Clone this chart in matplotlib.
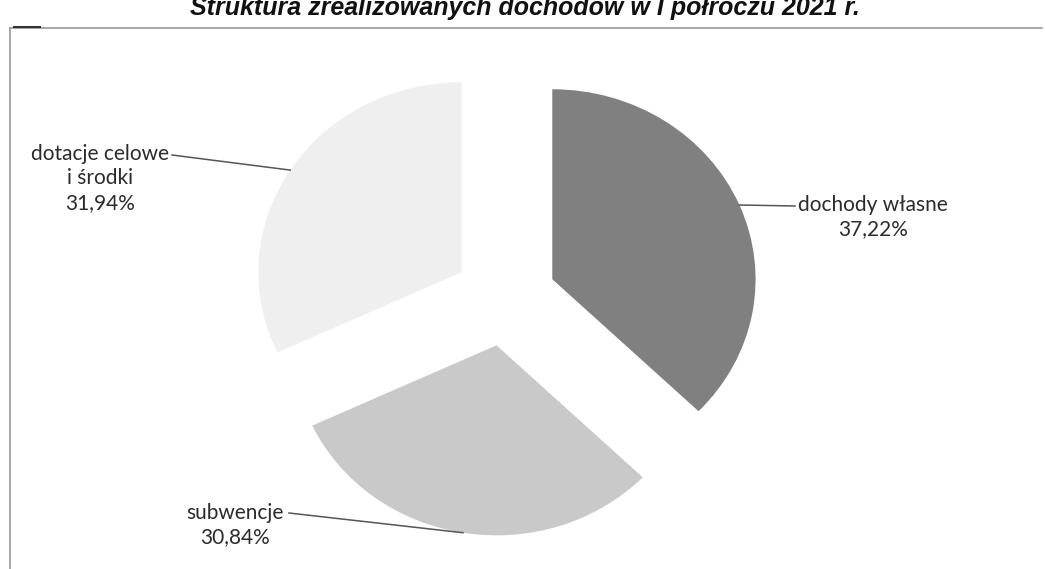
import numpy as np
import matplotlib.pyplot as plt
from matplotlib.lines import Line2D

plt.rcParams['font.family'] = ['Lato', 'DejaVu Sans']

# data
labels = ['dochody własne', 'subwencje', 'dotacje celowe\ni środki']
shares = [37.22, 30.84, 31.94]
pct_text = ['37,22%', '30,84%', '31,94%']
colors = ['#808080', '#c9c9c9', '#efefef']
title = 'Struktura zrealizowanych dochodów w I półroczu 2021 r.'

W, H = 1045, 569
sx = 1.07  # scan is a bit stretched horizontally

fig = plt.figure(figsize=(W / 100, H / 100), dpi=100)
ax = fig.add_axes([0, 0, 1, 1])

# explode is in data units here (radius 190)
wedges, _ = ax.pie(shares, colors=colors, startangle=90, counterclock=False,
                   explode=[48] * 3, radius=190, center=(505 / sx, 271),
                   wedgeprops=dict(linewidth=0))
ax.set_aspect('auto')
ax.set_xlim(0, W / sx)
ax.set_ylim(0, H)
ax.axis('off')

# label positions (px from top-left, centre of first line)
lab_pos = [(873, 207), (235, 515), (100, 156)]
line_end = [(795, 206), (289, 513), (172, 155)]

for w, lab, pct, (lx, ly), (ex, ey) in zip(wedges, labels, pct_text, lab_pos, line_end):
    mid = np.deg2rad((w.theta1 + w.theta2) / 2)
    cx, cy = w.center
    px = cx + w.r * np.cos(mid)
    py = cy + w.r * np.sin(mid)
    ax.plot([px, ex / sx], [py, H - ey], color='#555555', lw=1.1)
    ax.text(lx / sx, H - ly + 12, lab + '\n' + pct, ha='center', va='top',
            fontsize=15, color='#2b2b2b', linespacing=1.27)

# chart border (top and left)
fig.add_artist(Line2D([10 / W, 1042 / W], [1 - 28 / H, 1 - 28 / H],
                      color='#9a9a9a', lw=1.2))
fig.add_artist(Line2D([10 / W, 10 / W], [0, 1 - 28 / H],
                      color='#9a9a9a', lw=1.2))
fig.add_artist(Line2D([14 / W, 40 / W], [1 - 27 / H, 1 - 27 / H],
                      color='#333333', lw=1.5))

# title, cut off at the top like in the scan
fig.text(525 / W, 1 - 15 / H, title, ha='center', va='baseline',
         fontsize=18, fontweight='bold', fontstyle='italic',
         family=['Liberation Sans', 'DejaVu Sans'], color='#111111')

fig.savefig('out.png', dpi=100)
